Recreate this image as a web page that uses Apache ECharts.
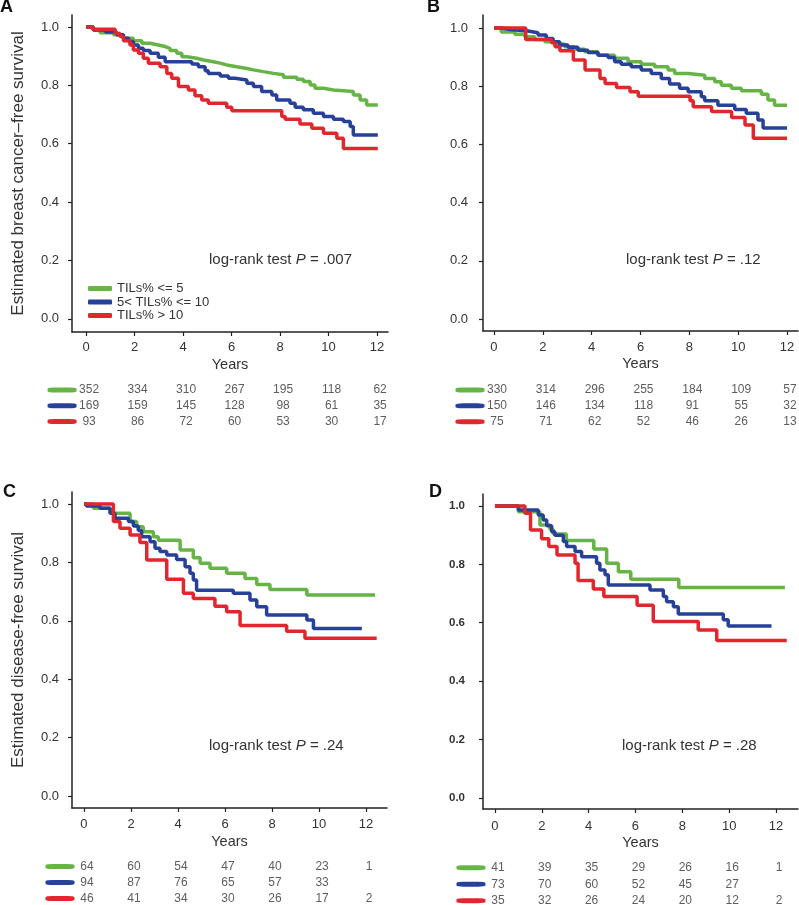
<!DOCTYPE html>
<html><head><meta charset="utf-8">
<script src="https://cdn.jsdelivr.net/npm/echarts@6/dist/echarts.min.js"></script>
<style>html,body{margin:0;padding:0;background:#fff}#c{width:799px;height:905px}</style>
</head><body><div id="c"></div><script>
// ---------- data ----------
const groupNames = ['TILs% <= 5', '5< TILs% <= 10', 'TILs% > 10'];
const xTicks = [0, 2, 4, 6, 8, 10, 12];
const yTicks = [0, 0.2, 0.4, 0.6, 0.8, 1.0];
const pValues = ['.007', '.12', '.24', '.28'];
const panelLetters = ['A', 'B', 'C', 'D'];

// Panel A (breast cancer-free survival, all)
const aGreen = [[0,1.0],[0.3,0.99],[0.58,0.98],[1.13,0.973],[1.54,0.961],[1.95,0.953],[2.3,0.944],[2.64,0.938],[2.98,0.933],[3.26,0.927],[3.46,0.919],[3.74,0.91],[3.95,0.898],[4.15,0.893],[4.56,0.887],[4.84,0.881],[5.25,0.876],[5.53,0.87],[5.8,0.864],[6.21,0.858],[6.63,0.853],[6.9,0.847],[7.31,0.841],[7.73,0.836],[8.14,0.828],[8.69,0.821],[8.96,0.813],[9.24,0.801],[9.44,0.79],[9.79,0.784],[10.2,0.779],[11.02,0.767],[11.3,0.75],[11.57,0.733],[12.03,0.733]];
const aBlue = [[0,1.0],[0.3,0.99],[0.8,0.983],[1.26,0.973],[1.54,0.961],[1.75,0.95],[1.95,0.938],[2.16,0.927],[2.36,0.919],[2.64,0.91],[2.98,0.896],[3.26,0.881],[4.36,0.873],[4.63,0.864],[4.91,0.85],[5.04,0.841],[5.53,0.832],[5.87,0.824],[6.14,0.818],[6.63,0.807],[6.9,0.796],[7.24,0.779],[7.66,0.767],[7.86,0.75],[8.41,0.739],[8.62,0.725],[8.96,0.716],[9.37,0.704],[9.79,0.693],[10.2,0.684],[10.61,0.676],[10.89,0.659],[11.02,0.63],[12.03,0.63]];
const aRed = [[0,1.0],[0.27,0.992],[1.2,0.978],[1.4,0.967],[1.54,0.953],[1.81,0.938],[1.95,0.921],[2.16,0.91],[2.36,0.893],[2.57,0.876],[3.05,0.864],[3.33,0.841],[3.53,0.824],[3.81,0.796],[4.22,0.784],[4.49,0.764],[4.77,0.75],[5.04,0.739],[5.8,0.725],[6.01,0.713],[8.07,0.693],[8.21,0.684],[8.82,0.668],[9.31,0.653],[9.79,0.636],[10.34,0.619],[10.61,0.584],[12.03,0.584]];

// Panel B
const bGreen = [[0,1.0],[0.3,0.987],[0.85,0.979],[1.26,0.97],[1.67,0.961],[2.08,0.953],[2.48,0.945],[2.89,0.936],[3.3,0.927],[3.71,0.919],[4.26,0.907],[4.94,0.896],[5.49,0.884],[6.03,0.876],[6.58,0.867],[7.13,0.856],[7.4,0.844],[7.95,0.838],[8.63,0.827],[9.04,0.816],[9.31,0.804],[9.72,0.793],[10.13,0.785],[10.95,0.773],[11.22,0.753],[11.49,0.735],[12.0,0.735]];
const bBlue = [[0,1.0],[0.3,0.995],[0.65,0.99],[1.39,0.984],[1.8,0.976],[2.14,0.964],[2.42,0.953],[2.69,0.942],[3.03,0.934],[3.44,0.924],[3.85,0.916],[4.26,0.907],[4.67,0.899],[4.94,0.884],[5.21,0.876],[5.62,0.867],[6.03,0.856],[6.44,0.844],[6.85,0.827],[7.19,0.808],[7.6,0.793],[7.95,0.781],[8.49,0.764],[8.63,0.75],[9.17,0.735],[9.86,0.72],[10.33,0.707],[10.81,0.684],[11.02,0.657],[12.0,0.657]];
const bRed = [[0,1.0],[1.3,0.961],[2.36,0.95],[2.5,0.936],[2.7,0.922],[3.25,0.89],[3.73,0.856],[4.34,0.827],[4.55,0.81],[5.02,0.796],[5.57,0.781],[5.91,0.766],[8.03,0.75],[8.16,0.73],[8.91,0.713],[9.73,0.693],[10.28,0.667],[10.62,0.621],[12.0,0.621]];

// Panel C (disease-free survival)
const cGreen = [[0,1.0],[0.4,0.985],[1.11,0.968],[1.96,0.94],[2.24,0.922],[2.52,0.905],[2.95,0.888],[3.16,0.876],[4.09,0.842],[4.65,0.816],[4.94,0.797],[5.36,0.78],[6.07,0.763],[6.85,0.745],[7.35,0.724],[7.91,0.707],[9.48,0.688],[12.38,0.688]];
const cBlue = [[0,1.0],[0.1,0.993],[0.68,0.985],[1.11,0.968],[1.32,0.951],[1.89,0.94],[2.1,0.925],[2.31,0.909],[2.45,0.888],[2.81,0.871],[3.02,0.848],[3.23,0.837],[3.52,0.825],[3.94,0.81],[4.3,0.785],[4.51,0.763],[4.65,0.74],[4.79,0.705],[6.35,0.694],[7.06,0.671],[7.35,0.648],[7.77,0.62],[9.48,0.603],[9.76,0.574],[11.82,0.574]];
const cRed = [[0,1.0],[1.25,0.94],[1.53,0.917],[1.96,0.894],[2.38,0.868],[2.67,0.808],[3.52,0.742],[4.23,0.694],[4.65,0.676],[5.57,0.65],[6.07,0.631],[6.64,0.584],[8.62,0.564],[9.4,0.54],[12.45,0.54]];

// Panel D
const dGreen = [[0,1.0],[1.0,0.98],[1.92,0.935],[2.35,0.92],[2.49,0.904],[3.05,0.882],[4.22,0.853],[4.77,0.804],[5.27,0.775],[5.8,0.749],[7.85,0.721],[12.38,0.721]];
const dBlue = [[0,1.0],[1.0,0.986],[1.85,0.969],[2.06,0.952],[2.21,0.932],[2.42,0.912],[2.56,0.9],[2.92,0.878],[3.06,0.861],[3.42,0.844],[3.7,0.826],[4.34,0.804],[4.48,0.781],[4.7,0.764],[4.84,0.729],[6.62,0.712],[7.19,0.69],[7.33,0.672],[7.62,0.655],[7.83,0.63],[9.75,0.61],[9.96,0.589],[11.81,0.589]];
const dRed = [[0,1.0],[1.28,0.975],[1.52,0.918],[1.99,0.888],[2.3,0.861],[2.65,0.832],[3.42,0.804],[3.55,0.745],[4.2,0.716],[4.65,0.69],[6.07,0.66],[6.76,0.604],[8.68,0.575],[9.47,0.539],[12.46,0.539]];

// Numbers at risk (at years 0,2,4,...,12)
const riskAGreen = [352, 334, 310, 267, 195, 118, 62];
const riskABlue  = [169, 159, 145, 128, 98, 61, 35];
const riskARed   = [93, 86, 72, 60, 53, 30, 17];
const riskBGreen = [330, 314, 296, 255, 184, 109, 57];
const riskBBlue  = [150, 146, 134, 118, 91, 55, 32];
const riskBRed   = [75, 71, 62, 52, 46, 26, 13];
const riskCGreen = [64, 60, 54, 47, 40, 23, 1];
const riskCBlue  = [94, 87, 76, 65, 57, 33, null];
const riskCRed   = [46, 41, 34, 30, 26, 17, 2];
const riskDGreen = [41, 39, 35, 29, 26, 16, 1];
const riskDBlue  = [73, 70, 60, 52, 45, 27, null];
const riskDRed   = [35, 32, 26, 24, 20, 12, 2];

// ---------- layout / style ----------
const FONT = '"Liberation Sans", Arial, Helvetica, sans-serif';
const colors = ['#66b446', '#27409a', '#e2262d'];
const axisColor = '#222';
const textColor = '#333';

const panels = [
  { curves: [aGreen, aBlue, aRed], risk: [riskAGreen, riskABlue, riskARed],
    grid: {left: 72, top: 15, width: 316, height: 317}, xr: [-0.58, 12.45], yr: [-0.045, 1.041],
    risk_rows: [390, 421.5], yName: 'Estimated breast cancer\u2013free survival', boldY: false,
    letterPos: [0, -2], pPos: [209, 252], yLabelMargin: 13, xLabelMargin: 9, nameGap: 25 },
  { curves: [bGreen, bBlue, bRed], risk: [riskBGreen, riskBBlue, riskBRed],
    grid: {left: 483, top: 15, width: 315, height: 316}, xr: [-0.45, 12.45], yr: [-0.041, 1.045],
    risk_rows: [390, 421.7], yName: '', boldY: false,
    letterPos: [427, -2], pPos: [626, 252], yLabelMargin: 15, xLabelMargin: 10, nameGap: 25 },
  { curves: [cGreen, cBlue, cRed], risk: [riskCGreen, riskCBlue, riskCRed],
    grid: {left: 72, top: 492, width: 315, height: 316}, xr: [-0.51, 12.89], yr: [-0.041, 1.041],
    risk_rows: [866.5, 898.5], yName: 'Estimated disease-free survival', boldY: false,
    letterPos: [3, 483], pPos: [209, 738], yLabelMargin: 13, xLabelMargin: 10, nameGap: 26 },
  { curves: [dGreen, dBlue, dRed], risk: [riskDGreen, riskDBlue, riskDRed],
    grid: {left: 483, top: 494, width: 315, height: 315}, xr: [-0.51, 12.94], yr: [-0.038, 1.041],
    risk_rows: [867.7, 900.7], yName: '', boldY: true,
    letterPos: [429, 483], pPos: [622, 738], yLabelMargin: 18, xLabelMargin: 11, nameGap: 26 }
];

const grids = [], xAxes = [], yAxes = [], series = [], titles = [];

panels.forEach((P, i) => {
  grids.push(Object.assign({containLabel: false, show: false}, P.grid));
  xAxes.push({
    gridIndex: i, type: 'value', min: P.xr[0], max: P.xr[1],
    axisLine: {show: true, onZero: false, lineStyle: {color: axisColor, width: 1.5}},
    axisTick: {show: true, length: 4, inside: false, customValues: xTicks, lineStyle: {color: axisColor, width: 1.2}},
    axisLabel: {show: true, customValues: xTicks, margin: P.xLabelMargin, fontSize: 13, color: textColor, fontFamily: FONT,
      formatter: v => String(v)},
    splitLine: {show: false},
    name: 'Years', nameLocation: 'middle', nameGap: P.nameGap,
    nameTextStyle: {fontSize: 14.5, color: textColor, fontFamily: FONT}
  });
  yAxes.push({
    gridIndex: i, type: 'value', min: P.yr[0], max: P.yr[1],
    axisLine: {show: true, onZero: false, lineStyle: {color: axisColor, width: 1.5}},
    axisTick: {show: true, length: 4, customValues: yTicks, lineStyle: {color: axisColor, width: 1.2}},
    axisLabel: {show: true, customValues: yTicks, margin: P.yLabelMargin,
      fontSize: P.boldY ? 11.5 : 13, fontWeight: P.boldY ? 'bold' : 'normal',
      color: textColor, fontFamily: FONT, formatter: v => v.toFixed(1)},
    splitLine: {show: false},
    name: P.yName, nameLocation: 'middle', nameRotate: 90, nameGap: 45,
    nameTextStyle: {fontSize: 17, color: textColor, fontFamily: FONT}
  });
  P.curves.forEach((curve, g) => {
    series.push({
      type: 'line', name: groupNames[g], xAxisIndex: i, yAxisIndex: i,
      data: curve, step: 'end', showSymbol: false, symbol: 'none', silent: true,
      lineStyle: {width: 3.5, color: colors[g]}, itemStyle: {color: colors[g]},
      z: 3 + g
    });
  });
  titles.push({
    text: panelLetters[i], left: P.letterPos[0], top: P.letterPos[1], padding: 0,
    textStyle: {fontSize: 18, fontWeight: 'bold', color: '#111', fontFamily: FONT}
  });
  titles.push({
    text: '{a|log-rank test }{b|P}{a| = ' + pValues[i] + '}', left: P.pPos[0], top: P.pPos[1], padding: 0,
    textStyle: {fontWeight: 'normal', rich: {
      a: {fontSize: 15, fontWeight: 'normal', color: textColor, fontFamily: FONT},
      b: {fontSize: 15, fontWeight: 'normal', color: textColor, fontFamily: FONT, fontStyle: 'italic'}
    }}
  });
});

// risk-table grids sharing each panel's x scale
panels.forEach((P, i) => {
  const gi = grids.length;
  grids.push({show: false, left: P.grid.left, width: P.grid.width,
    top: P.risk_rows[0], height: P.risk_rows[1] - P.risk_rows[0]});
  xAxes.push({gridIndex: gi, type: 'value', min: P.xr[0], max: P.xr[1], show: false});
  yAxes.push({gridIndex: gi, type: 'value', min: 0, max: 2, inverse: true, show: false});
  P.risk.forEach((counts, g) => {
    series.push({
      type: 'scatter', xAxisIndex: gi, yAxisIndex: gi, clip: false, silent: true,
      symbol: 'roundRect', symbolSize: [29, 5], symbolOffset: [-24, 0],
      itemStyle: {color: colors[g], opacity: 1},
      data: [[xTicks[0], g]]
    });
    series.push({
      type: 'scatter', xAxisIndex: gi, yAxisIndex: gi, clip: false, silent: true,
      symbolSize: 1, itemStyle: {color: 'rgba(0,0,0,0)'},
      data: counts.map((n, k) => n == null ? null : [xTicks[k], g, n]).filter(d => d),
      label: {show: true, position: 'inside', offset: [3, 0], formatter: p => String(p.value[2]),
        fontSize: 12, color: textColor, fontFamily: FONT}
    });
  });
});

const chart = echarts.init(document.getElementById('c'), null, {renderer: 'canvas'});
chart.setOption({
  animation: false,
  backgroundColor: '#fff',
  title: titles,
  grid: grids,
  xAxis: xAxes,
  yAxis: yAxes,
  legend: {
    data: groupNames, left: 83, top: 277, orient: 'vertical', selectedMode: false,
    icon: 'roundRect', itemWidth: 24, itemHeight: 5, itemGap: 0.5,
    textStyle: {fontSize: 13, color: textColor, fontFamily: FONT, padding: [0, 0, 0, 0], lineHeight: 13}
  },
  series: series
});
</script></body></html>
